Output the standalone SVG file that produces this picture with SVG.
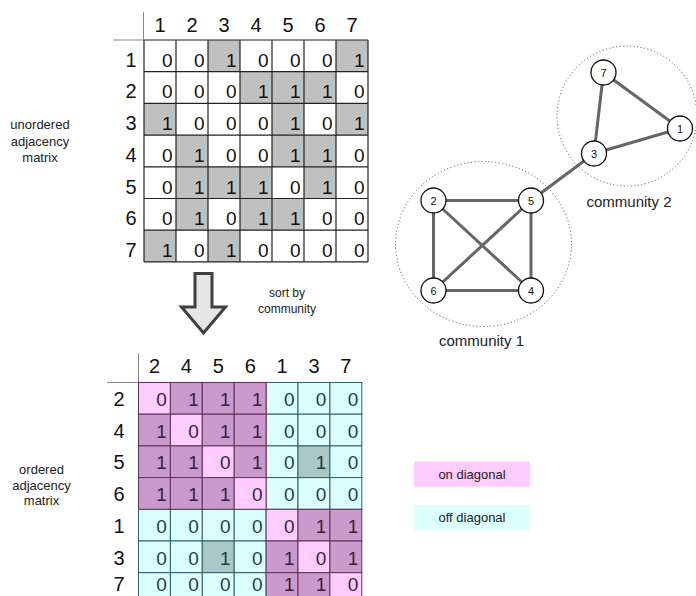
<svg xmlns="http://www.w3.org/2000/svg" width="696" height="596" viewBox="0 0 696 596">
<style>
text{font-family:"Liberation Sans",Arial,sans-serif}
.hdr{font-size:20px;fill:#111;text-anchor:middle}
.v{font-size:19px;fill:#111;text-anchor:end}
.vp{font-size:19px;fill:#3a1f3a;text-anchor:end}
.vc{font-size:19px;fill:#1f3f3f;text-anchor:end}
.gr{fill:#c0c0c0}
.p{fill:#cc99cc;stroke:#5e2f5e;stroke-width:1}
.d{fill:#ffccff;stroke:#5e2f5e;stroke-width:1}
.c{fill:#dcffff;stroke:#2f5e5e;stroke-width:1}
.g{fill:#a9c8c6;stroke:#2f5e5e;stroke-width:1}
.lbl{font-size:13px;fill:#222;text-anchor:middle}
.edge{stroke:#666;stroke-width:3;fill:none}
.node circle{fill:#fff;stroke:#111;stroke-width:1.3}
.node text{font-size:11px;fill:#111;text-anchor:middle}
.comm{fill:none;stroke:#444;stroke-width:1;stroke-dasharray:1 2.5}
</style>
<rect width="696" height="596" fill="#fff"/>

<g id="matrix-unordered">
<path d="M113 40H144M143.5 12V40" stroke="#888" stroke-width="1"/>
<g class="gr">
<rect x="208" y="40" width="32" height="31.7"/><rect x="336" y="40" width="32" height="31.7"/>
<rect x="240" y="71.7" width="32" height="31.7"/><rect x="272" y="71.7" width="32" height="31.7"/><rect x="304" y="71.7" width="32" height="31.7"/>
<rect x="144" y="103.4" width="32" height="31.7"/><rect x="272" y="103.4" width="32" height="31.7"/><rect x="336" y="103.4" width="32" height="31.7"/>
<rect x="176" y="135.1" width="32" height="31.7"/><rect x="272" y="135.1" width="32" height="31.7"/><rect x="304" y="135.1" width="32" height="31.7"/>
<rect x="176" y="166.8" width="32" height="31.7"/><rect x="208" y="166.8" width="32" height="31.7"/><rect x="240" y="166.8" width="32" height="31.7"/><rect x="304" y="166.8" width="32" height="31.7"/>
<rect x="176" y="198.5" width="32" height="31.7"/><rect x="240" y="198.5" width="32" height="31.7"/><rect x="272" y="198.5" width="32" height="31.7"/>
<rect x="144" y="230.2" width="32" height="31.7"/><rect x="208" y="230.2" width="32" height="31.7"/>
</g>
<path d="M144 40V261.9M176 40V261.9M208 40V261.9M240 40V261.9M272 40V261.9M304 40V261.9M336 40V261.9M368 40V261.9M144 40H368M144 71.7H368M144 103.4H368M144 135.1H368M144 166.8H368M144 198.5H368M144 230.2H368M144 261.9H368" stroke="#222" stroke-width="1.2" fill="none"/>
<g class="hdr">
<text x="160" y="31.5">1</text><text x="192" y="31.5">2</text><text x="224" y="31.5">3</text><text x="256" y="31.5">4</text><text x="288" y="31.5">5</text><text x="320" y="31.5">6</text><text x="352" y="31.5">7</text>
<text x="131" y="66.7">1</text><text x="131" y="98.4">2</text><text x="131" y="130.1">3</text><text x="131" y="161.8">4</text><text x="131" y="193.5">5</text><text x="131" y="225.2">6</text><text x="131" y="256.9">7</text>
</g>
<g class="v">
<text x="172.5" y="66.7">0</text><text x="204.5" y="66.7">0</text><text x="236.5" y="66.7">1</text><text x="268.5" y="66.7">0</text><text x="300.5" y="66.7">0</text><text x="332.5" y="66.7">0</text><text x="364.5" y="66.7">1</text>
<text x="172.5" y="98.4">0</text><text x="204.5" y="98.4">0</text><text x="236.5" y="98.4">0</text><text x="268.5" y="98.4">1</text><text x="300.5" y="98.4">1</text><text x="332.5" y="98.4">1</text><text x="364.5" y="98.4">0</text>
<text x="172.5" y="130.1">1</text><text x="204.5" y="130.1">0</text><text x="236.5" y="130.1">0</text><text x="268.5" y="130.1">0</text><text x="300.5" y="130.1">1</text><text x="332.5" y="130.1">0</text><text x="364.5" y="130.1">1</text>
<text x="172.5" y="161.8">0</text><text x="204.5" y="161.8">1</text><text x="236.5" y="161.8">0</text><text x="268.5" y="161.8">0</text><text x="300.5" y="161.8">1</text><text x="332.5" y="161.8">1</text><text x="364.5" y="161.8">0</text>
<text x="172.5" y="193.5">0</text><text x="204.5" y="193.5">1</text><text x="236.5" y="193.5">1</text><text x="268.5" y="193.5">1</text><text x="300.5" y="193.5">0</text><text x="332.5" y="193.5">1</text><text x="364.5" y="193.5">0</text>
<text x="172.5" y="225.2">0</text><text x="204.5" y="225.2">1</text><text x="236.5" y="225.2">0</text><text x="268.5" y="225.2">1</text><text x="300.5" y="225.2">1</text><text x="332.5" y="225.2">0</text><text x="364.5" y="225.2">0</text>
<text x="172.5" y="256.9">1</text><text x="204.5" y="256.9">0</text><text x="236.5" y="256.9">1</text><text x="268.5" y="256.9">0</text><text x="300.5" y="256.9">0</text><text x="332.5" y="256.9">0</text><text x="364.5" y="256.9">0</text>
</g>
</g>

<g id="label-unordered" class="lbl">
<text x="40" y="129">unordered</text><text x="40" y="145.5">adjacency</text><text x="40" y="162">matrix</text>
</g>

<g id="sort-arrow">
<polygon points="195,273.5 212,273.5 212,307 225.5,307 203.5,333 181.5,307 195,307" fill="#e6e6e6" stroke="#404040" stroke-width="3"/>
<text class="lbl" x="287" y="297" style="font-size:12px">sort by</text>
<text class="lbl" x="287" y="313" style="font-size:12px">community</text>
</g>

<g id="matrix-ordered">
<path d="M107 382.5H138.5M138.5 353V382.5" stroke="#888" stroke-width="1"/>
<g>
<rect class="c" x="266.1" y="382.5" width="31.9" height="31.7"/><rect class="c" x="298" y="382.5" width="31.9" height="31.7"/><rect class="c" x="329.9" y="382.5" width="31.9" height="31.7"/>
<rect class="c" x="266.1" y="414.2" width="31.9" height="31.7"/><rect class="c" x="298" y="414.2" width="31.9" height="31.7"/><rect class="c" x="329.9" y="414.2" width="31.9" height="31.7"/>
<rect class="c" x="266.1" y="445.9" width="31.9" height="31.7"/><rect class="g" x="298" y="445.9" width="31.9" height="31.7"/><rect class="c" x="329.9" y="445.9" width="31.9" height="31.7"/>
<rect class="c" x="266.1" y="477.6" width="31.9" height="31.7"/><rect class="c" x="298" y="477.6" width="31.9" height="31.7"/><rect class="c" x="329.9" y="477.6" width="31.9" height="31.7"/>
<rect class="c" x="138.5" y="509.3" width="31.9" height="31.7"/><rect class="c" x="170.4" y="509.3" width="31.9" height="31.7"/><rect class="c" x="202.3" y="509.3" width="31.9" height="31.7"/><rect class="c" x="234.2" y="509.3" width="31.9" height="31.7"/>
<rect class="c" x="138.5" y="541" width="31.9" height="31.7"/><rect class="c" x="170.4" y="541" width="31.9" height="31.7"/><rect class="g" x="202.3" y="541" width="31.9" height="31.7"/><rect class="c" x="234.2" y="541" width="31.9" height="31.7"/>
<rect class="c" x="138.5" y="572.7" width="31.9" height="31.7"/><rect class="c" x="170.4" y="572.7" width="31.9" height="31.7"/><rect class="c" x="202.3" y="572.7" width="31.9" height="31.7"/><rect class="c" x="234.2" y="572.7" width="31.9" height="31.7"/>
<rect class="d" x="138.5" y="382.5" width="31.9" height="31.7"/><rect class="p" x="170.4" y="382.5" width="31.9" height="31.7"/><rect class="p" x="202.3" y="382.5" width="31.9" height="31.7"/><rect class="p" x="234.2" y="382.5" width="31.9" height="31.7"/>
<rect class="p" x="138.5" y="414.2" width="31.9" height="31.7"/><rect class="d" x="170.4" y="414.2" width="31.9" height="31.7"/><rect class="p" x="202.3" y="414.2" width="31.9" height="31.7"/><rect class="p" x="234.2" y="414.2" width="31.9" height="31.7"/>
<rect class="p" x="138.5" y="445.9" width="31.9" height="31.7"/><rect class="p" x="170.4" y="445.9" width="31.9" height="31.7"/><rect class="d" x="202.3" y="445.9" width="31.9" height="31.7"/><rect class="p" x="234.2" y="445.9" width="31.9" height="31.7"/>
<rect class="p" x="138.5" y="477.6" width="31.9" height="31.7"/><rect class="p" x="170.4" y="477.6" width="31.9" height="31.7"/><rect class="p" x="202.3" y="477.6" width="31.9" height="31.7"/><rect class="d" x="234.2" y="477.6" width="31.9" height="31.7"/>
<rect class="d" x="266.1" y="509.3" width="31.9" height="31.7"/><rect class="p" x="298" y="509.3" width="31.9" height="31.7"/><rect class="p" x="329.9" y="509.3" width="31.9" height="31.7"/>
<rect class="p" x="266.1" y="541" width="31.9" height="31.7"/><rect class="d" x="298" y="541" width="31.9" height="31.7"/><rect class="p" x="329.9" y="541" width="31.9" height="31.7"/>
<rect class="p" x="266.1" y="572.7" width="31.9" height="31.7"/><rect class="p" x="298" y="572.7" width="31.9" height="31.7"/><rect class="d" x="329.9" y="572.7" width="31.9" height="31.7"/>
</g>
<g class="hdr">
<text x="154.5" y="373">2</text><text x="186.4" y="373">4</text><text x="218.3" y="373">5</text><text x="250.2" y="373">6</text><text x="282.1" y="373">1</text><text x="314" y="373">3</text><text x="345.9" y="373">7</text>
<text x="119" y="406">2</text><text x="119" y="437.7">4</text><text x="119" y="469.4">5</text><text x="119" y="501.1">6</text><text x="119" y="532.8">1</text><text x="119" y="564.5">3</text><text x="119" y="591">7</text>
</g>
<g>
<text class="vp" x="166.9" y="406">0</text><text class="vp" x="198.8" y="406">1</text><text class="vp" x="230.7" y="406">1</text><text class="vp" x="262.6" y="406">1</text><text class="vc" x="294.5" y="406">0</text><text class="vc" x="326.4" y="406">0</text><text class="vc" x="358.3" y="406">0</text>
<text class="vp" x="166.9" y="437.7">1</text><text class="vp" x="198.8" y="437.7">0</text><text class="vp" x="230.7" y="437.7">1</text><text class="vp" x="262.6" y="437.7">1</text><text class="vc" x="294.5" y="437.7">0</text><text class="vc" x="326.4" y="437.7">0</text><text class="vc" x="358.3" y="437.7">0</text>
<text class="vp" x="166.9" y="469.4">1</text><text class="vp" x="198.8" y="469.4">1</text><text class="vp" x="230.7" y="469.4">0</text><text class="vp" x="262.6" y="469.4">1</text><text class="vc" x="294.5" y="469.4">0</text><text class="vc" x="326.4" y="469.4">1</text><text class="vc" x="358.3" y="469.4">0</text>
<text class="vp" x="166.9" y="501.1">1</text><text class="vp" x="198.8" y="501.1">1</text><text class="vp" x="230.7" y="501.1">1</text><text class="vp" x="262.6" y="501.1">0</text><text class="vc" x="294.5" y="501.1">0</text><text class="vc" x="326.4" y="501.1">0</text><text class="vc" x="358.3" y="501.1">0</text>
<text class="vc" x="166.9" y="532.8">0</text><text class="vc" x="198.8" y="532.8">0</text><text class="vc" x="230.7" y="532.8">0</text><text class="vc" x="262.6" y="532.8">0</text><text class="vp" x="294.5" y="532.8">0</text><text class="vp" x="326.4" y="532.8">1</text><text class="vp" x="358.3" y="532.8">1</text>
<text class="vc" x="166.9" y="564.5">0</text><text class="vc" x="198.8" y="564.5">0</text><text class="vc" x="230.7" y="564.5">1</text><text class="vc" x="262.6" y="564.5">0</text><text class="vp" x="294.5" y="564.5">1</text><text class="vp" x="326.4" y="564.5">0</text><text class="vp" x="358.3" y="564.5">1</text>
<text class="vc" x="166.9" y="591">0</text><text class="vc" x="198.8" y="591">0</text><text class="vc" x="230.7" y="591">0</text><text class="vc" x="262.6" y="591">0</text><text class="vp" x="294.5" y="591">1</text><text class="vp" x="326.4" y="591">1</text><text class="vp" x="358.3" y="591">0</text>
</g>
</g>

<g id="label-ordered" class="lbl">
<text x="41.5" y="474">ordered</text><text x="41.5" y="489.5">adjacency</text><text x="41.5" y="505">matrix</text>
</g>

<g id="legend-on"><rect x="414" y="461.7" width="116" height="25" fill="#ffccff"/><text class="lbl" x="472" y="478.5">on diagonal</text></g>
<g id="legend-off"><rect x="414" y="505" width="116" height="25" fill="#dcffff"/><text class="lbl" x="472" y="522">off diagonal</text></g>

<g id="community-1"><ellipse class="comm" cx="483.5" cy="244" rx="88" ry="82.5"/><text class="lbl" x="481.5" y="346" style="font-size:15px">community 1</text></g>
<g id="community-2"><circle class="comm" cx="627" cy="116" r="70"/><text class="lbl" x="629" y="207" style="font-size:15px">community 2</text></g>

<g id="connectors">
<line class="edge" x1="603.5" y1="72.5" x2="680" y2="128.5"/>
<line class="edge" x1="603.5" y1="72.5" x2="594" y2="153.5"/>
<line class="edge" x1="594" y1="153.5" x2="680" y2="128.5"/>
<line class="edge" x1="594" y1="153.5" x2="531" y2="200.5"/>
<line class="edge" x1="433.5" y1="200.5" x2="531" y2="200.5"/>
<line class="edge" x1="433.5" y1="200.5" x2="433.5" y2="290.5"/>
<line class="edge" x1="433.5" y1="200.5" x2="531" y2="290.5"/>
<line class="edge" x1="531" y1="200.5" x2="433.5" y2="290.5"/>
<line class="edge" x1="531" y1="200.5" x2="531" y2="290.5"/>
<line class="edge" x1="433.5" y1="290.5" x2="531" y2="290.5"/>
</g>

<g id="node-7" class="node"><circle cx="603.5" cy="72.5" r="12.5"/><text x="603.5" y="76.5">7</text></g>
<g id="node-1" class="node"><circle cx="680" cy="128.5" r="12.5"/><text x="680" y="132.5">1</text></g>
<g id="node-3" class="node"><circle cx="594" cy="153.5" r="12.5"/><text x="594" y="157.5">3</text></g>
<g id="node-2" class="node"><circle cx="433.5" cy="200.5" r="12.5"/><text x="433.5" y="204.5">2</text></g>
<g id="node-5" class="node"><circle cx="531" cy="200.5" r="12.5"/><text x="531" y="204.5">5</text></g>
<g id="node-6" class="node"><circle cx="433.5" cy="290.5" r="12.5"/><text x="433.5" y="294.5">6</text></g>
<g id="node-4" class="node"><circle cx="531" cy="290.5" r="12.5"/><text x="531" y="294.5">4</text></g>
</svg>
